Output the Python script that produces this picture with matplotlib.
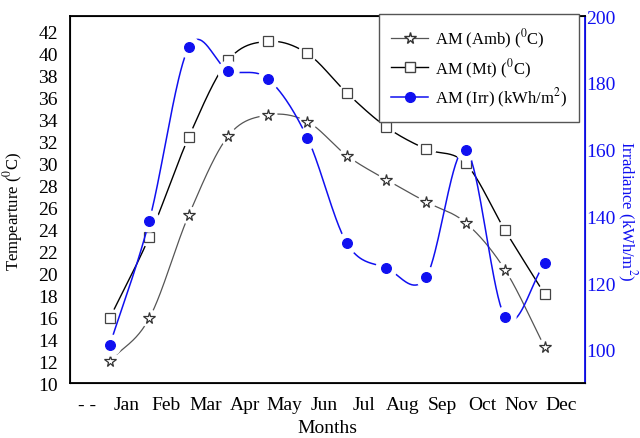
import matplotlib
matplotlib.use("Agg")
import matplotlib.pyplot as plt
import numpy as np

plt.rcParams["font.family"] = ["Liberation Serif", "DejaVu Serif"]
plt.rcParams["mathtext.fontset"] = "stix"

month_labels = ["- -", "Jan", "Feb", "Mar", "Apr", "May", "Jun",
                "Jul", "Aug", "Sep", "Oct", "Nov", "Dec"]

amb = [12.0, 15.9, 25.3, 32.5, 34.4, 33.8, 30.7, 28.5, 26.5, 24.6, 20.3, 13.3]
mt = [15.9, 23.3, 32.4, 39.4, 41.1, 40.0, 36.4, 33.3, 31.3, 30.0, 23.9, 18.1]
irr = [101.3, 138.6, 190.7, 183.7, 181.2, 163.5, 131.9, 124.5, 121.7, 160.0, 109.8, 125.9]

BLUE = "#1010f0"


def smooth(x, y, per=40):
    # Catmull-Rom style hermite curve through the points
    x = np.asarray(x, float)
    y = np.asarray(y, float)
    k = len(x)
    m = np.zeros(k)
    m[1:-1] = (y[2:] - y[:-2]) / (x[2:] - x[:-2])
    m[0] = (y[1] - y[0]) / (x[1] - x[0])
    m[-1] = (y[-1] - y[-2]) / (x[-1] - x[-2])
    xs, ys = [], []
    for i in range(k - 1):
        h = x[i + 1] - x[i]
        t = np.linspace(0, 1, per)
        h00 = 2 * t**3 - 3 * t**2 + 1
        h10 = t**3 - 2 * t**2 + t
        h01 = -2 * t**3 + 3 * t**2
        h11 = t**3 - t**2
        xs.append(x[i] + t * h)
        ys.append(h00 * y[i] + h10 * h * m[i] + h01 * y[i + 1] + h11 * h * m[i + 1])
    return np.concatenate(xs), np.concatenate(ys)


def draw(ax, x, y, color, lw, marker, ms, mfc, mec, halo):
    xs, ys = smooth(x, y)
    ax.plot(xs, ys, color=color, lw=lw, zorder=2)
    ax.plot(x, y, ls="none", marker="o", ms=halo, mfc="white", mec="white", zorder=3)
    ax.plot(x, y, ls="none", marker=marker, ms=ms, mfc=mfc, mec=mec, mew=0.9, zorder=4)


fig = plt.figure(figsize=(6.4, 4.39), dpi=100)
ax = fig.add_axes([0.109, 0.125, 0.805, 0.836])
ax2 = ax.twinx()

x = np.arange(len(amb)) + 0.58

draw(ax, x, amb, "#555555", 0.9, "*", 8.5, "white", "#333333", 12)
draw(ax, x, mt, "black", 1.0, "s", 7, "white", "#444444", 13)
draw(ax2, x, irr, BLUE, 1.1, "o", 7, BLUE, BLUE, 15)

ax.set_xlim(-0.43, 12.6)
ax.set_ylim(10, 43.4)
ax.set_yticks(np.arange(10, 43, 2))
ax.set_xticks(np.arange(len(month_labels)))
ax.set_xticklabels(month_labels)
ax.tick_params(axis="y", length=0, pad=8.5, labelsize=14)
ax.tick_params(axis="x", length=0, pad=9, labelsize=14)

ax2.set_ylim(90, 200)
ax2.set_yticks([100, 120, 140, 160, 180, 200])
ax2.tick_params(axis="y", length=0, pad=1, labelsize=14, colors=BLUE)

for s in ["left", "bottom", "top"]:
    ax2.spines[s].set_linewidth(1.3)
    ax2.spines[s].set_color("black")
ax2.spines["right"].set_color(BLUE)
ax2.spines["right"].set_linewidth(1.3)

ax.set_xlabel("Months", fontsize=14)
ax.xaxis.set_label_coords(0.5, -0.098)
ax.set_ylabel("Tempearture ($^0$C)", fontsize=12)
ax.yaxis.set_label_coords(-0.086, 0.47)
ax2.set_ylabel("Irradiance (kWh/m$^2$)", fontsize=12, color=BLUE,
               rotation=270, va="center")
ax2.yaxis.set_label_coords(1.08, 0.47)

handles = [
    plt.Line2D([], [], color="#555555", lw=0.9, marker="*", ms=8.5, mfc="white", mec="#333333"),
    plt.Line2D([], [], color="black", lw=1.0, marker="s", ms=7, mfc="white", mec="#444444"),
    plt.Line2D([], [], color=BLUE, lw=1.1, marker="o", ms=7, mfc=BLUE, mec=BLUE),
]
labels = ["AM (Amb) ($^0$C)", "AM (Mt) ($^0$C)", "AM (Irr) (kWh/m$^2$)"]
leg = ax2.legend(handles, labels, loc="upper right", bbox_to_anchor=(0.905, 0.966),
                 bbox_transform=fig.transFigure, borderaxespad=0, fancybox=False,
                 fontsize=12, handlelength=2.2, handletextpad=0.4, framealpha=1,
                 borderpad=0.75, labelspacing=0.4)
leg.get_frame().set_edgecolor("#555555")
leg.get_frame().set_linewidth(1.0)

fig.savefig("out.png", dpi=100)
